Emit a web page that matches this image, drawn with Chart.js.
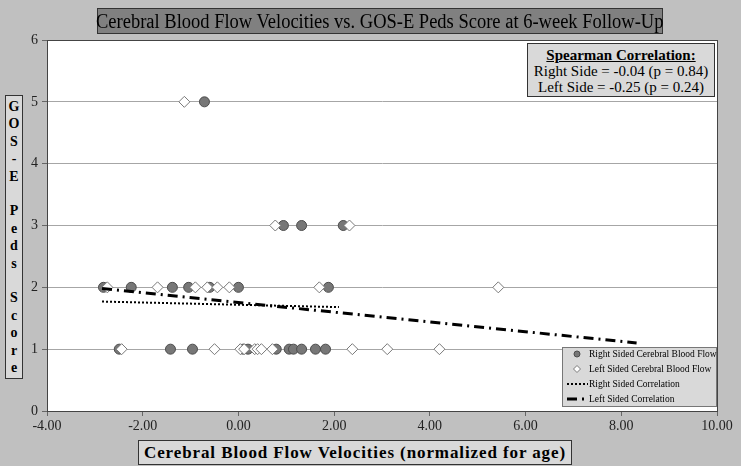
<!DOCTYPE html>
<html>
<head>
<meta charset="utf-8">
<script src="https://cdn.jsdelivr.net/npm/chart.js@4.4.0/dist/chart.umd.min.js"></script>
<style>
  body { margin: 0; background: #c0c0c0; }
  #wrap { position: relative; width: 741px; height: 466px; font-family: "Liberation Serif", "Times New Roman", serif; }
  canvas { position: absolute; left: 0; top: 0; }
  .box { position: absolute; border: 1px solid #333; color: #000; }
  #title { left: 97px; top: 8px; width: 564px; height: 24px; background: #808080; font-size: 20px; line-height: 24px; text-align: center; white-space: nowrap; overflow: visible; }
  #title span { display: inline-block; transform: scaleX(0.925); transform-origin: center; margin-left: -40px; margin-right: -40px; }
  #stats { left: 527px; top: 43px; width: 188px; height: 54px; background: #d9d9d9; font-size: 15px; line-height: 16px; text-align: center; padding-top: 3px; box-sizing: border-box; }
  #stats b { text-decoration: underline; }
  #ytitle { left: 5px; top: 95px; width: 18px; height: 284px; background: #d9d9d9; font-size: 14px; font-weight: bold; text-align: center; line-height: 17.4px; padding-top: 2px; box-sizing: border-box; }
  #xtitle { left: 138px; top: 440px; width: 432px; height: 23px; background: #d9d9d9; font-size: 17px; font-weight: bold; letter-spacing: 0.9px; text-align: center; line-height: 23px; white-space: nowrap; }
</style>
</head>
<body>
<div id="wrap">
  <canvas id="c" width="741" height="466"></canvas>
  <div class="box" id="title"><span>Cerebral Blood Flow Velocities vs. GOS-E Peds Score at 6-week Follow-Up</span></div>
  <div class="box" id="stats"><b>Spearman Correlation:</b><br>Right Side = -0.04 (p = 0.84)<br>Left Side = -0.25 (p = 0.24)</div>
  <div class="box" id="ytitle">G<br>O<br>S<br>-<br>E<br><br>P<br>e<br>d<br>s<br><br>S<br>c<br>o<br>r<br>e</div>
  <div class="box" id="xtitle">Cerebral Blood Flow Velocities (normalized for age)</div>
</div>
<script>
// values
const rightX = [-0.71, 0.94, 1.32, 2.19,
  -2.82, -2.24, -1.38, -1.04, -0.60, 0.00, 1.88,
  -2.49, -1.42, -0.96, 0.10, 0.20, 0.79, 1.06, 1.15, 1.32, 1.61, 1.82];
const rightY = [5, 3, 3, 3,
  2, 2, 2, 2, 2, 2, 2,
  1, 1, 1, 1, 1, 1, 1, 1, 1, 1, 1];
const leftX = [-1.13, 0.77, 2.32,
  -2.74, -1.69, -0.90, -0.65, -0.44, -0.19, 1.69, 5.43,
  -2.44, -0.50, 0.04, 0.12, 0.34, 0.40, 0.48, 0.71, 2.38, 3.11, 4.20];
const leftY = [5, 3, 3,
  2, 2, 2, 2, 2, 2, 2, 2,
  1, 1, 1, 1, 1, 1, 1, 1, 1, 1, 1];
const rightTrendX = [-2.85, 2.10];
const rightTrendY = [1.77, 1.68];
const leftTrendX = [-2.85, 8.32];
const leftTrendY = [1.98, 1.10];
const labels = ['Right Sided Cerebral Blood Flow', 'Left Sided Cerebral Blood Flow',
  'Right Sided Correlation', 'Left Sided Correlation'];

function pts(xs, ys) {
  let out = [];
  for (let i = 0; i < xs.length; i++) {
    out.push({ x: xs[i], y: ys[i] });
  }
  return out;
}

// plot frame + legend box drawn inside the plot
const framePlugin = {
  id: 'frame',
  beforeDraw(chart) {
    const a = chart.chartArea, ctx = chart.ctx;
    ctx.save();
    ctx.fillStyle = '#ffffff';
    ctx.fillRect(a.left, a.top, a.right - a.left, a.bottom - a.top);
    ctx.restore();
  },
  afterDraw(chart) {
    const a = chart.chartArea, ctx = chart.ctx;
    ctx.save();
    ctx.strokeStyle = '#444';
    ctx.lineWidth = 1;
    ctx.strokeRect(a.left + 0.5, a.top + 0.5, a.right - a.left, a.bottom - a.top);

    // legend
    const bx = 562, by = 347, bw = 154, bh = 59;
    ctx.fillStyle = '#d9d9d9';
    ctx.fillRect(bx, by, bw, bh);
    ctx.strokeStyle = '#777';
    ctx.strokeRect(bx + 0.5, by + 0.5, bw, bh);
    ctx.font = '9.5px "Liberation Serif"';
    ctx.textBaseline = 'middle';
    const rows = [354, 369, 384, 399];
    const ds = chart.data.datasets;
    for (let i = 0; i < 4; i++) {
      const y = rows[i];
      const d = ds[i];
      ctx.strokeStyle = d.borderColor;
      ctx.fillStyle = d.backgroundColor;
      if (i == 0) {
        ctx.beginPath();
        ctx.arc(577, y, 3, 0, Math.PI * 2);
        ctx.fill();
        ctx.stroke();
      } else if (i == 1) {
        ctx.beginPath();
        ctx.moveTo(577, y - 3.5); ctx.lineTo(580.5, y); ctx.lineTo(577, y + 3.5); ctx.lineTo(573.5, y);
        ctx.closePath();
        ctx.fill();
        ctx.stroke();
      } else {
        ctx.lineWidth = d.borderWidth;
        ctx.setLineDash(d.borderDash);
        ctx.beginPath();
        ctx.moveTo(567, y); ctx.lineTo(588, y);
        ctx.stroke();
        ctx.setLineDash([]);
        ctx.lineWidth = 1;
      }
      ctx.fillStyle = '#000';
      ctx.fillText(d.label, 589, y + 0.5);
    }
    ctx.restore();
  }
};

new Chart(document.getElementById('c'), {
  type: 'scatter',
  data: {
    datasets: [
      { label: labels[0], data: pts(rightX, rightY), backgroundColor: '#777777', borderColor: '#4d4d4d',
        borderWidth: 1, pointStyle: 'circle', pointRadius: 5, order: 2 },
      { label: labels[1], data: pts(leftX, leftY), backgroundColor: '#ffffff', borderColor: '#7a7a7a',
        borderWidth: 1, pointStyle: 'rectRot', pointRadius: 5.5, order: 1 },
      { label: labels[2], data: pts(rightTrendX, rightTrendY), showLine: true, pointRadius: 0,
        borderColor: '#000', backgroundColor: '#000', borderWidth: 2, borderDash: [2, 2], order: 0 },
      { label: labels[3], data: pts(leftTrendX, leftTrendY), showLine: true, pointRadius: 0,
        borderColor: '#000', backgroundColor: '#000', borderWidth: 3, borderDash: [10, 5, 2, 5], order: 0 }
    ]
  },
  options: {
    responsive: false,
    animation: false,
    layout: { padding: { left: 0, top: 40, right: 24, bottom: 0 } },
    plugins: { legend: { display: false }, tooltip: { enabled: false } },
    scales: {
      x: {
        type: 'linear', min: -4, max: 10,
        afterFit(s) { s.height = 55; },
        ticks: { stepSize: 2, callback: v => v.toFixed(2), color: '#222', padding: 2,
          font: { family: 'Liberation Serif', size: 14 }, maxRotation: 0 },
        grid: { drawOnChartArea: false, drawTicks: true, tickLength: 5, color: '#666' },
        border: { color: '#444' }
      },
      y: {
        min: 0, max: 6,
        afterFit(s) { s.width = 47; },
        ticks: { stepSize: 1, color: '#222', padding: 4, font: { family: 'Liberation Serif', size: 14 } },
        grid: { color: '#a6a6a6', tickLength: 5, tickColor: '#666' },
        border: { color: '#444' }
      }
    }
  },
  plugins: [framePlugin]
});
</script>
</body>
</html>
